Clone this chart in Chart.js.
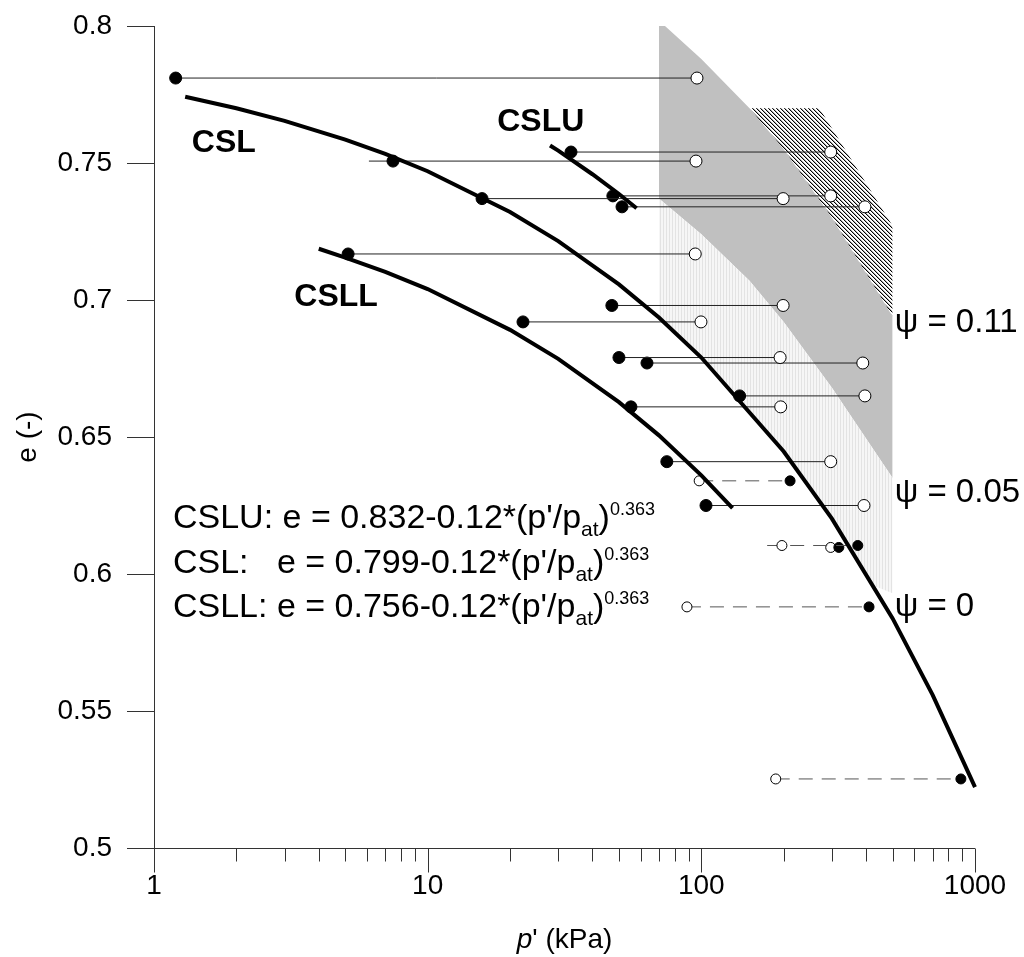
<!DOCTYPE html>
<html>
<head>
<meta charset="utf-8">
<title>Critical state lines, e - log p'</title>
<script src="https://cdn.jsdelivr.net/npm/chart.js@4.4.1/dist/chart.umd.min.js"></script>
<style>
    html, body { margin: 0; padding: 0; background: #fff; }
    #wrap { position: relative; width: 1024px; height: 957px; }
</style>
</head>
<body>
<div id="wrap"><canvas id="chart"></canvas></div>
<script>
// --- axis ticks ---
const xTickValues = [1, 2, 3, 4, 5, 6, 7, 8, 9, 10, 20, 30, 40, 50, 60, 70, 80, 90,
    100, 200, 300, 400, 500, 600, 700, 800, 900, 1000];
const xTickLabels = ['1', '10', '100', '1000'];
const yTickValues = [0.5, 0.55, 0.6, 0.65, 0.7, 0.75, 0.8];

// --- test rows: void ratio, p' of filled point, p' of open point ---
const rowE       = [0.781, 0.754, 0.7507, 0.737, 0.738, 0.734, 0.7168, 0.698, 0.692, 0.679,
                    0.677, 0.665, 0.661, 0.641, 0.634, 0.625, 0.6104, 0.6097, 0.588, 0.5252];
const rowFilledP = [1.2, 33.4, 7.47, 15.8, 47.5, 51.3, 5.12, 47.1, 22.3, 50,
                    63.3, 138, 55.3, 74.8, 211, 104, 373, 318, 410, 888];
const rowOpenP   = [96.4, 297, 95.6, 199, 297, 396, 95, 199, 99.7, 194,
                    389, 396, 195, 297, 98.2, 393, 197, 297, 88.6, 187];
const rowLineFromP = [null, null, 6.1, null, null, null, null, null, null, null,
                      null, null, null, null, null, null, 174, null, null, null];
const rowDashed  = [false, false, false, false, false, false, false, false, false, false,
                    false, false, false, false, true, false, true, true, true, true];

// --- critical state lines ---
const cslP  = [1.3, 2, 3, 5, 7, 10, 20, 30, 50, 70, 100, 200, 300, 500, 700, 1000];
const cslE  = [0.7742, 0.770, 0.7654, 0.7585, 0.7533, 0.747, 0.7321, 0.7215, 0.7057, 0.6936,
               0.679, 0.6447, 0.6202, 0.5838, 0.5559, 0.5222];
const csluP = [28, 30, 40, 50, 58];
const csluE = [0.7564, 0.7545, 0.7459, 0.7387, 0.7335];
const csllP = [4, 5, 7, 10, 20, 30, 50, 70, 100, 130];
const csllE = [0.7187, 0.7155, 0.7103, 0.704, 0.6891, 0.6785, 0.6627, 0.6506, 0.636, 0.624];

// --- shaded state-parameter bands ---
const bandLowP   = [70, 100, 150, 200, 300, 420, 500];
const bandLowE   = [0.6936, 0.679, 0.660, 0.6447, 0.6202, 0.596, 0.593];
const bandP      = [70, 100, 150, 200, 300, 500];
const bandPsi05E = [0.737, 0.724, 0.707, 0.692, 0.668, 0.635];
const bandPsi11E = [0.802, 0.788, 0.770, 0.755, 0.730, 0.694];
const hatchLowP  = [150, 200, 300, 500];
const hatchLowE  = [0.770, 0.755, 0.730, 0.694];
const hatchTopP  = [150, 270, 500];
const hatchTopE  = [0.770, 0.770, 0.727];

const FONT = '"Liberation Sans", Arial, sans-serif';
const xy = (ps, es) => ps.map((p, i) => ({ x: p, y: es[i] }));

function makeStripes() {
    const c = document.createElement('canvas');
    c.width = 3; c.height = 4;
    const g = c.getContext('2d');
    g.fillStyle = '#f6f6f6'; g.fillRect(0, 0, 3, 4);
    g.fillStyle = '#e3e3e3'; g.fillRect(0, 0, 1, 4);
    return g.createPattern(c, 'repeat');
}

// thin "\" diagonal lines
function makeHatch() {
    const c = document.createElement('canvas');
    c.width = 4; c.height = 4;
    const g = c.getContext('2d');
    g.fillStyle = '#fff'; g.fillRect(0, 0, 4, 4);
    for (let i = 0; i < 4; i++) {
        g.fillStyle = '#000'; g.fillRect(i, i, 1, 1);
        g.fillStyle = '#aaa'; g.fillRect((i + 1) % 4, i, 1, 1);
    }
    return g.createPattern(c, 'repeat');
}

const edge = { borderWidth: 0, borderColor: 'rgba(0,0,0,0)', pointRadius: 0, order: 10 };
const datasets = [
    { ...edge, data: xy(bandLowP, bandLowE), fill: false },
    { ...edge, data: xy(bandP, bandPsi05E), fill: '-1', backgroundColor: makeStripes() },
    { ...edge, data: xy(bandP, bandPsi11E), fill: '-1', backgroundColor: '#c0c0c0' },
    { ...edge, data: xy(hatchLowP, hatchLowE), fill: false },
    { ...edge, data: xy(hatchTopP, hatchTopE), fill: '-1', backgroundColor: makeHatch() }
];

// each test: filled (start) and open (end) marker joined by a horizontal line
rowE.forEach((e, i) => {
    const pts = [{ x: rowFilledP[i], kind: 'filled' }, { x: rowOpenP[i], kind: 'open' }];
    if (rowLineFromP[i] !== null) pts.push({ x: rowLineFromP[i], kind: 'none' });
    pts.sort((a, b) => a.x - b.x);
    const r = rowDashed[i] ? 5 : 6;
    datasets.push({
        data: pts.map(p => ({ x: p.x, y: e })),
        borderColor: rowDashed[i] ? '#555' : '#222',
        borderWidth: 1,
        borderDash: rowDashed[i] ? [14, 9] : [],
        pointRadius: pts.map(p => p.kind === 'none' ? 0 : r),
        pointBackgroundColor: pts.map(p => p.kind === 'filled' ? '#000' : '#fff'),
        pointBorderColor: '#000',
        pointBorderWidth: 1,
        fill: false,
        order: 5
    });
});

[[cslP, cslE], [csluP, csluE], [csllP, csllE]].forEach(([ps, es]) => {
    datasets.push({
        data: xy(ps, es),
        borderColor: '#000',
        borderWidth: 4,
        pointRadius: 0,
        fill: false,
        clip: 6,
        order: 1
    });
});

const axesAndText = {
    id: 'axesAndText',
    afterDatasetsDraw(chart) {
        const { ctx, chartArea: a, scales: { x, y } } = chart;
        ctx.save();

        // axis lines and tick marks
        ctx.strokeStyle = '#333';
        ctx.lineWidth = 1;
        ctx.beginPath();
        const x0 = Math.round(a.left) + 0.5;
        const yb = Math.round(a.bottom) + 0.5;
        ctx.moveTo(x0, a.top);
        ctx.lineTo(x0, a.bottom + 24);
        ctx.moveTo(a.left - 27, yb);
        ctx.lineTo(a.right, yb);
        y.ticks.forEach(t => {
            const py = Math.round(y.getPixelForValue(t.value)) + 0.5;
            ctx.moveTo(a.left - 27, py);
            ctx.lineTo(a.left, py);
        });
        x.ticks.forEach(t => {
            const px = Math.round(x.getPixelForValue(t.value)) + 0.5;
            const major = xTickLabels.includes(String(t.value));
            ctx.moveTo(px, yb);
            ctx.lineTo(px, yb + (major ? 24 : 13));
        });
        ctx.stroke();

        ctx.fillStyle = '#000';

        // curve names
        ctx.font = 'bold 32px ' + FONT;
        ctx.textAlign = 'center';
        ctx.textBaseline = 'middle';
        [['CSL', 1.8, 0.7573], ['CSLU', 25.9, 0.765], ['CSLL', 4.63, 0.7011]].forEach(([t, p, e]) => {
            ctx.fillText(t, x.getPixelForValue(p), y.getPixelForValue(e));
        });

        // state parameter labels
        ctx.font = '33px ' + FONT;
        ctx.textAlign = 'left';
        [['\u03C8 = 0.11', 0.6915], ['\u03C8 = 0.05', 0.6296], ['\u03C8 = 0', 0.588]].forEach(([t, e]) => {
            ctx.fillText(t, x.getPixelForValue(509), y.getPixelForValue(e));
        });

        // equations with subscript / superscript
        ctx.textBaseline = 'alphabetic';
        const eqs = [
            ['CSLU: e = 0.832-0.12*(p\'/p', 0.6168],
            ['CSL:   e = 0.799-0.12*(p\'/p', 0.6004],
            ['CSLL: e = 0.756-0.12*(p\'/p', 0.5843]
        ];
        eqs.forEach(([t, e]) => {
            const parts = [
                { text: t, font: '34px ' + FONT, dy: 0 },
                { text: 'at', font: '21px ' + FONT, dy: 8 },
                { text: ')', font: '34px ' + FONT, dy: 0 },
                { text: '0.363', font: '18px ' + FONT, dy: -13 }
            ];
            let cx = x.getPixelForValue(1.173);
            const by = y.getPixelForValue(e);
            parts.forEach(p => {
                ctx.font = p.font;
                ctx.fillText(p.text, cx, by + p.dy);
                cx += ctx.measureText(p.text).width;
            });
        });

        // axis titles
        ctx.font = '28px ' + FONT;
        ctx.textBaseline = 'middle';
        ctx.textAlign = 'center';
        ctx.save();
        ctx.translate(28, (a.top + a.bottom) / 2);
        ctx.rotate(-Math.PI / 2);
        ctx.fillText('e (-)', 0, 0);
        ctx.restore();

        const pPart = 'p';
        const rest = '\' (kPa)';
        ctx.font = 'italic 28px ' + FONT;
        const w1 = ctx.measureText(pPart).width;
        ctx.font = '28px ' + FONT;
        const w2 = ctx.measureText(rest).width;
        const tx = (a.left + a.right) / 2 - (w1 + w2) / 2;
        ctx.textAlign = 'left';
        ctx.font = 'italic 28px ' + FONT;
        ctx.fillText(pPart, tx, 940);
        ctx.font = '28px ' + FONT;
        ctx.fillText(rest, tx + w1, 940);

        ctx.restore();
    }
};

new Chart(document.getElementById('chart'), {
    type: 'line',
    data: { datasets },
    plugins: [axesAndText],
    options: {
        responsive: true,
        maintainAspectRatio: false,
        animation: false,
        events: [],
        layout: { padding: { left: 0, top: 26, right: 49, bottom: 0 } },
        plugins: { legend: { display: false }, tooltip: { enabled: false } },
        elements: { line: { tension: 0 } },
        scales: {
            x: {
                type: 'logarithmic',
                min: 1,
                max: 1000,
                grid: { display: false, drawTicks: false },
                border: { display: false },
                afterBuildTicks: s => { s.ticks = xTickValues.map(v => ({ value: v })); },
                afterFit: s => { s.height = 109; s.paddingLeft = 0; s.paddingRight = 0; },
                ticks: {
                    autoSkip: false,
                    maxRotation: 0,
                    padding: 21,
                    color: '#000',
                    font: { family: FONT, size: 28 },
                    callback: v => xTickLabels.includes(String(v)) ? String(v) : ''
                }
            },
            y: {
                type: 'linear',
                min: 0.5,
                max: 0.8,
                grid: { display: false, drawTicks: false },
                border: { display: false },
                afterBuildTicks: s => { s.ticks = yTickValues.map(v => ({ value: v })); },
                afterFit: s => { s.width = 154; s.paddingTop = 0; s.paddingBottom = 0; },
                ticks: {
                    padding: 42,
                    color: '#000',
                    font: { family: FONT, size: 28 },
                    callback: v => String(Number(v.toFixed(2)))
                }
            }
        }
    }
});
</script>
</body>
</html>
